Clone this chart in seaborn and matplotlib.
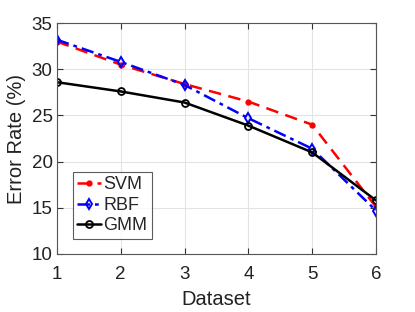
import pandas as pd
import numpy as np
import seaborn as sns
import matplotlib
matplotlib.use('Agg')
import matplotlib.pyplot as plt

datasets = [1, 2, 3, 4, 5, 6]
svm = [33.0, 30.5, 28.4, 26.5, 24.0, 15.1]
rbf = [33.2, 30.8, 28.3, 24.7, 21.4, 14.7]
gmm = [28.6, 27.6, 26.4, 23.9, 21.0, 15.8]

df = pd.DataFrame({'Dataset': datasets * 3,
                   'Error': svm + rbf + gmm,
                   'Method': ['SVM'] * 6 + ['RBF'] * 6 + ['GMM'] * 6})

sns.set_style('white')
plt.rcParams['font.family'] = ['Liberation Sans', 'DejaVu Sans']

fig = plt.figure(figsize=(4.15, 3.12), dpi=100)
ax = fig.add_axes([0.137, 0.186, 0.769, 0.740])

styles = {'SVM': dict(color='red', ls=(0, (5, 3)), marker='o', ms=3.5, mfc='red'),
          'RBF': dict(color='blue', ls=(0, (5, 2, 1.5, 2)), marker='d', ms=5, mfc='none', mew=1.4),
          'GMM': dict(color='black', ls='-', marker='o', ms=5, mfc='none', mew=1.3)}

for m in ['SVM', 'RBF', 'GMM']:
    sub = df[df['Method'] == m]
    st = styles[m]
    sns.lineplot(data=sub, x='Dataset', y='Error', ax=ax, color=st['color'],
                 linestyle=st['ls'], marker=st['marker'], markersize=st['ms'],
                 markerfacecolor=st['mfc'], markeredgecolor=st['color'],
                 markeredgewidth=st.get('mew', 1), linewidth=1.8, label=m)

ax.set_xlim(1, 6)
ax.set_ylim(10, 35)
ax.set_xticks(datasets)
ax.set_yticks([10, 15, 20, 25, 30, 35])
ax.grid(True, color='#e3e3e3', linewidth=0.8)
for s in ax.spines.values():
    s.set_color('#555555')
    s.set_linewidth(0.8)
ax.tick_params(direction='in', length=4, labelsize=13.5, colors='#333333',
               top=True, right=True, bottom=True, left=True)
ax.tick_params(axis='x', pad=9)
ax.tick_params(axis='y', pad=3)
for lab in ax.get_xticklabels() + ax.get_yticklabels():
    lab.set_color('#222222')
ax.set_xlabel('Dataset', fontsize=14.5, color='#222222', labelpad=5)
ax.set_ylabel('Error Rate (%)', fontsize=14.5, color='#222222')

leg = ax.legend(loc='lower left', bbox_to_anchor=(0.05, 0.065), fontsize=13, frameon=True,
                fancybox=False, handlelength=1.3, handletextpad=0.15, borderpad=0.25,
                labelspacing=0.2, borderaxespad=0)
leg.get_frame().set_edgecolor('#333333')
leg.get_frame().set_linewidth(0.8)

fig.savefig('out.png', dpi=100)
